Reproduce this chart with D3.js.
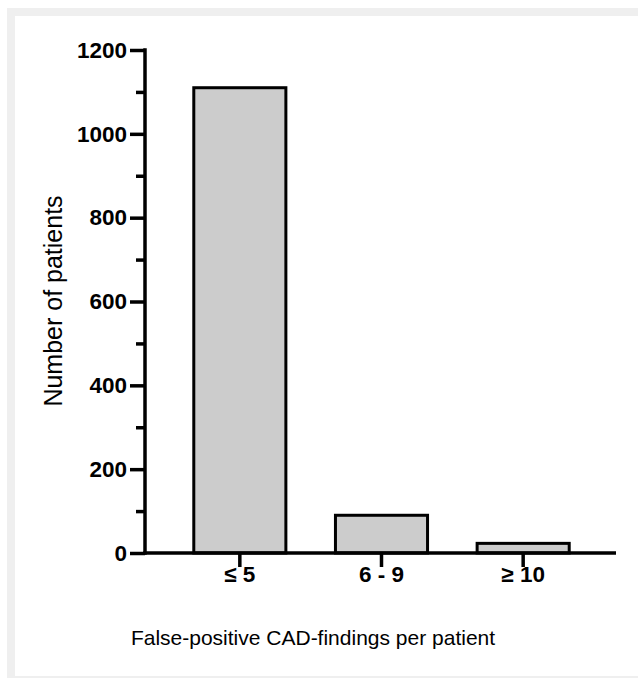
<!DOCTYPE html>
<html>
<head>
<meta charset="utf-8">
<script src="https://cdn.jsdelivr.net/npm/d3@7/dist/d3.min.js"></script>
<style>
html,body{margin:0;padding:0;background:#fff;}
svg{display:block;}
</style>
</head>
<body>
<svg id="chart" width="638" height="678"></svg>
<script>
const categories = ["\u2264 5", "6 - 9", "\u2265 10"];
const values = [1110, 90, 23];
const yTicks = [0, 200, 400, 600, 800, 1000, 1200];
const yMinorTicks = [100, 300, 500, 700, 900, 1100];
const yTitle = "Number of patients";
const xTitle = "False-positive CAD-findings per patient";

const svg = d3.select("#chart");

// frame
svg.append("rect").attr("x", 7).attr("y", 8).attr("width", 631).attr("height", 670).attr("fill", "#efefef");
svg.append("rect").attr("x", 15).attr("y", 16).attr("width", 623).attr("height", 660).attr("fill", "#ffffff");

const x0 = 145, xEnd = 616, yTop = 50, yBot = 553;
const y = d3.scaleLinear().domain([0, 1200]).range([yBot, yTop]);
const x = d3.scaleBand().domain(categories).range([169, 594]).paddingInner(0.35).paddingOuter(0.175);

const font = "'Liberation Sans', Arial, Helvetica, sans-serif";

// bars
svg.append("g").selectAll("rect").data(values).join("rect")
  .attr("x", (d, i) => x(categories[i]))
  .attr("y", d => y(d))
  .attr("width", x.bandwidth())
  .attr("height", d => y(0) - y(d))
  .attr("fill", "#cccccc")
  .attr("stroke", "#000")
  .attr("stroke-width", 3);

// y axis
const yAxis = d3.axisLeft(y).tickValues(yTicks).tickSize(15).tickSizeOuter(0).tickPadding(3).tickFormat(d3.format("d"));
const gy = svg.append("g").attr("transform", `translate(${x0},0)`).call(yAxis);
gy.select(".domain").remove();
gy.selectAll(".tick line").attr("stroke", "#000").attr("stroke-width", 3.5);
gy.selectAll(".tick text").attr("font-family", font).attr("font-weight", "bold").attr("font-size", 22.5).attr("fill", "#000");

const yMinor = d3.axisLeft(y).tickValues(yMinorTicks).tickSize(9).tickSizeOuter(0).tickFormat("");
const gym = svg.append("g").attr("transform", `translate(${x0},0)`).call(yMinor);
gym.select(".domain").remove();
gym.selectAll(".tick line").attr("stroke", "#000").attr("stroke-width", 3.5);

svg.append("line").attr("x1", x0).attr("x2", x0).attr("y1", y(1200) - 1.75).attr("y2", y(0) + 1.75)
  .attr("stroke", "#000").attr("stroke-width", 3.5);

// x axis
const xAxis = d3.axisBottom(x).tickSize(14).tickSizeOuter(0).tickPadding(-1);
const gx = svg.append("g").attr("transform", `translate(0,${yBot})`).call(xAxis);
gx.select(".domain").remove();
gx.selectAll(".tick line").attr("stroke", "#000").attr("stroke-width", 3.5);
gx.selectAll(".tick text").attr("font-family", font).attr("font-weight", "bold").attr("font-size", 22.5).attr("fill", "#000");

svg.append("line").attr("x1", x0 - 1.75).attr("x2", xEnd).attr("y1", yBot).attr("y2", yBot)
  .attr("stroke", "#000").attr("stroke-width", 3.5);

// titles
svg.append("text")
  .attr("transform", "translate(62,301) rotate(-90)")
  .attr("text-anchor", "middle")
  .attr("font-family", font).attr("font-size", 25).attr("fill", "#000")
  .text(yTitle);

svg.append("text")
  .attr("x", 313).attr("y", 645)
  .attr("text-anchor", "middle")
  .attr("font-family", font).attr("font-size", 21).attr("fill", "#000")
  .text(xTitle);
</script>
</body>
</html>
